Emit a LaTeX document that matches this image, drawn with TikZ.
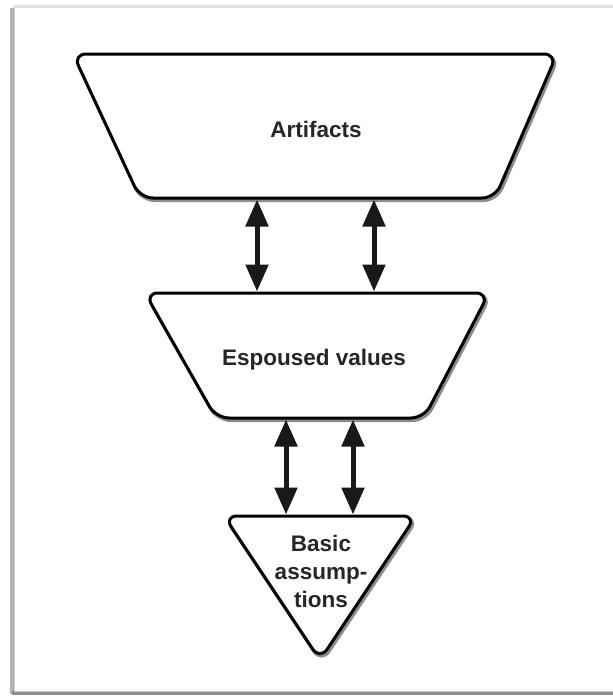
\documentclass[tikz,border=0pt]{standalone}
\usepackage{fontspec}
\setmainfont{Liberation Sans}
\usetikzlibrary{arrows.meta}
\tikzset{
  shapeline/.style={draw=black,line width=3pt,fill=white,rounded corners=13pt,line join=round},
  shapeshadow/.style={draw=black!45,line width=4pt,rounded corners=13pt,line join=round},
  dblarrow/.style={line width=5pt,draw=black!90,{Triangle[width=22pt,length=27pt]}-{Triangle[width=22pt,length=27pt]}},
  lbl/.style={font=\bfseries\fontsize{22.5}{28}\selectfont,text=black!85,align=center,inner sep=0pt}
}
\begin{document}
\begin{tikzpicture}[x=1pt,y=-1pt]
\useasboundingbox (0,0) rectangle (613,696);
\fill[white] (0,0) rectangle (613,696);
% frame with shadow
\draw[black!12,line width=3pt] (13,6) -- (615,6);
\draw[black!30,line width=4pt] (12,8) -- (12,694);
\draw[black!45,line width=4pt] (12,693) -- (615,693);
\draw[black!20,line width=1pt] (14,8) -- (14,691) -- (615,691);
% shadows
\begin{scope}[shift={(1.5,2)}]
\draw[shapeshadow] (73,54) -- (557,54) -- (495,198) -- (140,198) -- cycle;
\draw[shapeshadow] (145,293) -- (489,293) -- (424,418) -- (216,418) -- cycle;
\draw[shapeshadow] (224,516) -- (416,516) -- (320,660) -- cycle;
\end{scope}
% shapes
\draw[shapeline] (73,54) -- (557,54) -- (495,198) -- (140,198) -- cycle;
\draw[shapeline] (145,293) -- (489,293) -- (424,418) -- (216,418) -- cycle;
\draw[shapeline] (224,516) -- (416,516) -- (320,660) -- cycle;
% labels
\node[lbl] (art) at (316,129) {Artifacts};
\node[lbl] (esp) at (314,360) {Espoused values};
\node[lbl] (bas) at (321,571) {Basic\\assump-\\tions};
% arrow anchors
\coordinate (a1) at (257,199.5);
\coordinate (a2) at (257,291.5);
\coordinate (b1) at (374,199.5);
\coordinate (b2) at (374,291.5);
\coordinate (c1) at (286,419.5);
\coordinate (c2) at (286,514.5);
\coordinate (d1) at (353,419.5);
\coordinate (d2) at (353,514.5);
\draw[dblarrow] (a1) -- (a2);
\draw[dblarrow] (b1) -- (b2);
\draw[dblarrow] (c1) -- (c2);
\draw[dblarrow] (d1) -- (d2);
\end{tikzpicture}
\end{document}
